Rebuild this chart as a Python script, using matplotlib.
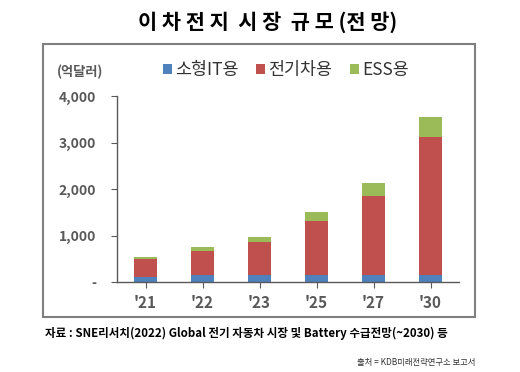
import matplotlib
matplotlib.use("Agg")
import matplotlib.pyplot as plt
from matplotlib.patches import Rectangle
from matplotlib.ticker import FuncFormatter
import numpy as np

plt.rcParams["font.family"] = ["Noto Sans CJK KR", "DejaVu Sans"]

years = ["'21", "'22", "'23", "'25", "'27", "'30"]
series_names = ["소형IT용", "전기차용", "ESS용"]
small_it = [115, 150, 145, 150, 150, 160]
ev = [372, 517, 708, 1155, 1692, 2950]
ess = [58, 93, 107, 200, 294, 430]
colors = ["#4F81BD", "#C0504D", "#9BBB59"]
text_gray = "#595959"

fig = plt.figure(figsize=(5.2, 3.72), dpi=100)
fig.patch.set_facecolor("white")

# chart frame
fig.patches.append(Rectangle((43 / 520, 1 - 317 / 372), 432 / 520, 273 / 372,
                             transform=fig.transFigure, fill=False,
                             edgecolor="#7F7F7F", linewidth=1.5))

ax = fig.add_axes([117 / 520, 1 - 282 / 372, 342 / 520, 186 / 372])
x = np.arange(len(years))
bottom = np.zeros(len(years))
for name, vals, c in zip(series_names, [small_it, ev, ess], colors):
    ax.bar(x, vals, width=0.39, bottom=bottom, color=c, label=name)
    bottom += np.array(vals)

ax.set_xlim(-0.5, len(years) - 0.5)
ax.set_ylim(0, 4000)
ax.set_yticks([0, 1000, 2000, 3000, 4000])
ax.yaxis.set_major_formatter(FuncFormatter(lambda v, p: "-" if v == 0 else f"{int(v):,}"))
ax.set_xticks(x)
ax.set_xticklabels(years)
for s in ["top", "right"]:
    ax.spines[s].set_visible(False)
for s in ["left", "bottom"]:
    ax.spines[s].set_color("#595959")
    ax.spines[s].set_linewidth(1.0)
ax.tick_params(axis="y", length=4, color="#595959", labelsize=10, labelcolor=text_gray, pad=11)
ax.tick_params(axis="x", length=4, color="#595959", labelsize=11, labelcolor=text_gray, pad=5)
for lab in ax.get_xticklabels() + ax.get_yticklabels():
    lab.set_fontweight("bold")

ax.legend(loc="upper left", bbox_to_anchor=(0.09, 1.27), ncol=3, frameon=False,
          fontsize=12.5, handlelength=0.5, handleheight=0.5, handletextpad=0.2,
          columnspacing=1.0, labelcolor="#333333")

fig.text(57 / 520, 1 - 72 / 372, "(억달러)", fontsize=9.5, color=text_gray,
         fontweight="bold", va="center", ha="left")

fig.text(268 / 520, 1 - 22 / 372, "이 차 전 지  시 장  규 모 (전 망)", fontsize=15,
         fontweight="bold", ha="center", va="center", color="black")

fig.text(45 / 520, 1 - 333 / 372,
         "자료 : SNE리서치(2022) Global 전기 자동차 시장 및 Battery 수급전망(~2030) 등",
         fontsize=8.3, fontweight="bold", ha="left", va="center", color="black")
fig.text(475 / 520, 1 - 362 / 372, "출처 = KDB미래전략연구소 보고서",
         fontsize=6, ha="right", va="center", color="#333333")

fig.savefig("out.png", dpi=100)
